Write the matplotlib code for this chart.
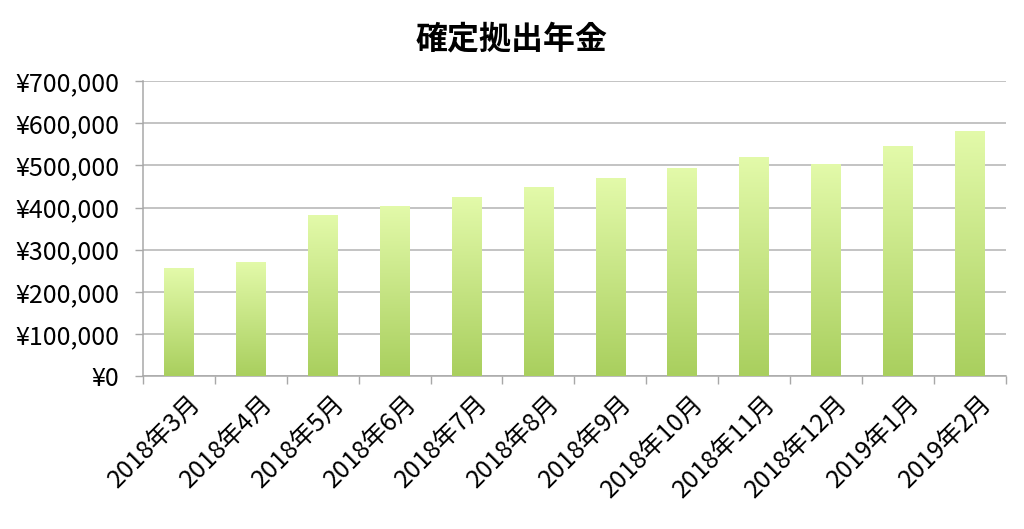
import matplotlib
matplotlib.use("Agg")
import matplotlib.pyplot as plt
import numpy as np
from matplotlib.ticker import FuncFormatter, FixedLocator
from matplotlib.colors import LinearSegmentedColormap

plt.rcParams['font.family'] = ['Noto Sans CJK JP', 'DejaVu Sans']

title = "確定拠出年金"
categories = ["2018年3月", "2018年4月", "2018年5月", "2018年6月", "2018年7月", "2018年8月",
              "2018年9月", "2018年10月", "2018年11月", "2018年12月", "2019年1月", "2019年2月"]
values = [256000, 272000, 382000, 404000, 426000, 448000,
          471000, 494000, 520000, 503000, 545000, 581000]
yticks = [0, 100000, 200000, 300000, 400000, 500000, 600000, 700000]

fig = plt.figure(figsize=(10.24, 5.29), dpi=100)
ax = fig.add_axes([0.1397, 0.2887, 0.8423, 0.5582])

x = np.arange(len(categories))
bars = ax.bar(x, values, width=0.41, facecolor='none', edgecolor='none', zorder=3)

cmap = LinearSegmentedColormap.from_list("g", ["#A9CF5E", "#E3FAAA"])
grad = np.linspace(0, 1, 256).reshape(-1, 1)
for b in bars:
    x0, y0 = b.get_x(), b.get_y()
    w, h = b.get_width(), b.get_height()
    im = ax.imshow(grad, extent=[x0, x0 + w, y0, y0 + h], origin='lower',
                   cmap=cmap, aspect='auto', zorder=3, interpolation='bicubic')
    im.set_clip_path(b)

ax.set_xlim(-0.5, len(categories) - 0.5)
ax.set_ylim(0, 700000)
ax.set_yticks(yticks)
ax.yaxis.set_major_formatter(FuncFormatter(lambda v, p: "¥{:,.0f}".format(v)))
ax.grid(axis='y', color='#B3B3B3', linewidth=1.1, zorder=0)
ax.set_axisbelow(True)

ax.set_xticks(x + 0.12)
ax.set_xticklabels(categories, rotation=45, ha='right', rotation_mode='anchor', fontsize=18)
ax.tick_params(axis='x', which='major', length=0, pad=10)
ax.xaxis.set_minor_locator(FixedLocator(np.arange(-0.5, len(categories), 1.0)))
ax.tick_params(axis='x', which='minor', length=6, color='#A8A8A8', width=1)
ax.tick_params(axis='y', length=6, color='#A8A8A8', width=1, labelsize=18, pad=11)

for s in ['top', 'right']:
    ax.spines[s].set_visible(False)
for s in ['left', 'bottom']:
    ax.spines[s].set_color('#A8A8A8')
    ax.spines[s].set_linewidth(1.1)

fig.text(0.5, 0.925, title, ha='center', va='center', fontsize=23, fontweight='bold')

fig.savefig("out.png", dpi=100, facecolor='white')
